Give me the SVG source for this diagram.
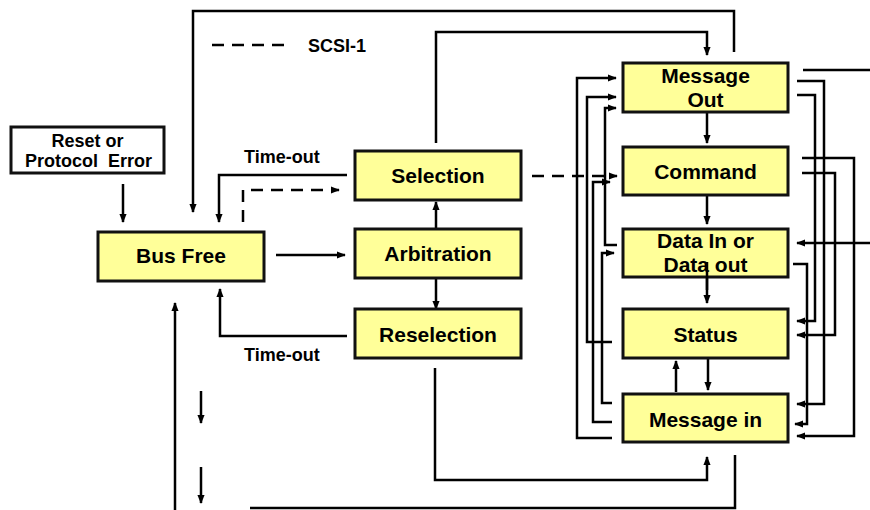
<svg xmlns="http://www.w3.org/2000/svg" width="870" height="510" viewBox="0 0 870 510">
<defs>
<marker id="ah" viewBox="0 0 10 10" refX="9" refY="5" markerWidth="9" markerHeight="9" markerUnits="userSpaceOnUse" orient="auto">
<path d="M0,1 L10,5 L0,9 z" fill="#000"/>
</marker>
<style>
.box{fill:#FFFF99;stroke:#111;stroke-width:3}
.wbox{fill:#fff;stroke:#111;stroke-width:3}
.t{font-family:"Liberation Sans",Arial,sans-serif;font-weight:bold;font-size:21px;fill:#000;text-anchor:middle}
.s{font-family:"Liberation Sans",Arial,sans-serif;font-weight:bold;font-size:18px;fill:#000}
.c{fill:none;stroke:#000;stroke-width:2.5}
.a{marker-end:url(#ah)}
.d{stroke-dasharray:12,8}
</style>
</defs>
<rect width="870" height="510" fill="#fff"/>

<g id="connectors">
<path class="c a" d="M123,184 V222"/>
<path class="c a" d="M734,52 V11 H193 V212"/>
<path class="c a" d="M436,143 V32 H707 V55"/>
<path class="c a" d="M347,175 H219 V222"/>
<path class="c a d" d="M243,222 V190 H339"/>
<path class="c d" d="M212,45 H290"/>
<path class="c a" d="M276,255 H345"/>
<path class="c a" d="M436,229 V202"/>
<path class="c a" d="M436,278 V309"/>
<path class="c a" d="M347,336 H220 V289"/>
<path class="c a" d="M175,510 V303"/>
<path class="c a" d="M201,391 V423"/>
<path class="c a" d="M201,467 V503"/>
<path class="c a" d="M435,368 V480 H707 V457"/>
<path class="c" d="M735,455 V508 H250"/>
<path class="c a d" d="M532,176 H617"/>
<path class="c a" d="M707,112 V143"/>
<path class="c a" d="M707,195 V224"/>
<path class="c a" d="M707,262 V303"/>
<path class="c a" d="M708,358 V390"/>
<path class="c a" d="M676,392 V361"/>
<path class="c a" d="M612,438 H577 V78 H616"/>
<path class="c a" d="M612,342 H587 V97 H616"/>
<path class="c a" d="M617,245 H605 V108 H616"/>
<path class="c a" d="M612,422 H593 V182 H610"/>
<path class="c a" d="M612,403 H602 V253 H614"/>
<path class="c" d="M803,70 H870"/>
<path class="c a" d="M797,81 H824 V404 H797"/>
<path class="c a" d="M797,95 H815 V321 H797"/>
<path class="c a" d="M802,158 H854 V436 H797"/>
<path class="c a" d="M802,173 H835 V335 H797"/>
<path class="c a" d="M870,243 H797"/>
<path class="c a" d="M793,264 H807 V424 H795"/>
</g>

<g id="legend">
<text class="s" x="308" y="52">SCSI-1</text>
</g>
<g id="label-timeout-top"><text class="s" x="244" y="163">Time-out</text></g>
<g id="label-timeout-bottom"><text class="s" x="244" y="361">Time-out</text></g>

<g id="reset">
<rect class="wbox" x="11" y="127" width="153" height="46"/>
<text class="s" x="87.5" y="147" text-anchor="middle">Reset or</text>
<text class="s" x="88.5" y="167" text-anchor="middle" xml:space="preserve">Protocol  Error</text>
</g>
<g id="busfree">
<rect class="box" x="98" y="232" width="166" height="49"/>
<text class="t" x="181" y="263">Bus Free</text>
</g>
<g id="selection">
<rect class="box" x="355" y="151" width="166" height="49"/>
<text class="t" x="438" y="183">Selection</text>
</g>
<g id="arbitration">
<rect class="box" x="355" y="229" width="166" height="49"/>
<text class="t" x="438" y="261">Arbitration</text>
</g>
<g id="reselection">
<rect class="box" x="355" y="309" width="166" height="49"/>
<text class="t" x="438" y="342">Reselection</text>
</g>
<g id="msgout">
<rect class="box" x="623" y="63" width="165" height="49"/>
<text class="t" x="705.5" y="83">Message</text>
<text class="t" x="705.5" y="107">Out</text>
</g>
<g id="command">
<rect class="box" x="623" y="147" width="165" height="48"/>
<text class="t" x="705.5" y="179">Command</text>
</g>
<g id="datainout">
<rect class="box" x="623" y="229" width="165" height="48"/>
<text class="t" x="705.5" y="248">Data In or</text>
<text class="t" x="705.5" y="272">Data out</text>
</g>
<g id="status">
<rect class="box" x="623" y="309" width="165" height="49"/>
<text class="t" x="705.5" y="342">Status</text>
</g>
<g id="msgin">
<rect class="box" x="623" y="394" width="165" height="48"/>
<text class="t" x="705.5" y="427">Message in</text>
</g>
<g id="connector-overlay">
<path class="c" d="M707,262 V290"/>
</g>
</svg>
